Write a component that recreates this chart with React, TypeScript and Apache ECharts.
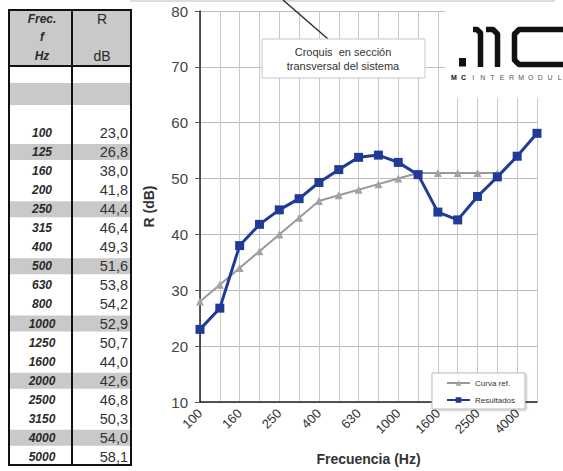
import React, { useEffect, useRef } from 'react';
import * as echarts from 'echarts';

const frequencies = ['100', '125', '160', '200', '250', '315', '400', '500', '630', '800', '1000', '1250', '1600', '2000', '2500', '3150', '4000', '5000'];
const results = [23.0, 26.8, 38.0, 41.8, 44.4, 46.4, 49.3, 51.6, 53.8, 54.2, 52.9, 50.7, 44.0, 42.6, 46.8, 50.3, 54.0, 58.1];
const referenceCurve = [28, 31, 34, 37, 40, 43, 46, 47, 48, 49, 50, 51, 51, 51, 51, 51, null, null];
const shadedRows = ['125', '250', '500', '1000', '2000', '4000'];
const yMin = 10;
const yMax = 80;
const yStep = 10;
const logoLetters = ['M', 'C', 'I', 'N', 'T', 'E', 'R', 'M', 'O', 'D', 'U', 'L'];

const FONT = 'Arial, "Liberation Sans", Helvetica, sans-serif';

function buildGraphics() {
  const g: any[] = [];
  const tx = 9, tw = 122, ty = 10, tb = 465;
  g.push({ type: 'rect', shape: { x: tx, y: ty, width: tw, height: 56 }, style: { fill: '#c9c9c9' }, z: 1 });
  g.push({ type: 'rect', shape: { x: tx, y: 83, width: tw, height: 22 }, style: { fill: '#c9c9c9' }, z: 1 });
  frequencies.forEach((f, i) => {
    const cy = 133 + i * 19.05;
    if (shadedRows.includes(f)) {
      g.push({ type: 'rect', shape: { x: tx, y: cy - 8, width: tw, height: 16 }, style: { fill: '#c9c9c9' }, z: 1 });
    }
    g.push({
      type: 'text', x: 42, y: cy, z: 3,
      style: { text: f, fontFamily: FONT, fontSize: 12, fontWeight: 'bold', fontStyle: 'italic', fill: '#2a2a2a', align: 'center', verticalAlign: 'middle' },
    });
    g.push({
      type: 'text', x: 128, y: cy, z: 3,
      style: { text: results[i].toFixed(1).replace('.', ','), fontFamily: FONT, fontSize: 14.5, fill: '#333', align: 'right', verticalAlign: 'middle' },
    });
  });
  g.push({ type: 'rect', shape: { x: tx, y: ty, width: tw, height: tb - ty }, style: { fill: 'none', stroke: '#111', lineWidth: 2 }, z: 4 });
  g.push({ type: 'line', shape: { x1: 72, y1: ty, x2: 72, y2: tb }, style: { stroke: '#111', lineWidth: 2 }, z: 4 });
  g.push({ type: 'line', shape: { x1: tx, y1: 66, x2: tx + tw, y2: 66 }, style: { stroke: '#111', lineWidth: 2 }, z: 4 });
  const hdr = (text: string, x: number, y: number, italic: boolean, size: number) =>
    g.push({
      type: 'text', x, y, z: 3,
      style: { text, fontFamily: FONT, fontSize: size, fontWeight: italic ? 'bold' : 'normal', fontStyle: italic ? 'italic' : 'normal', fill: '#2a2a2a', align: 'center', verticalAlign: 'middle' },
    });
  hdr('Frec.', 42, 19, true, 12);
  hdr('f', 42, 37, true, 12);
  hdr('Hz', 42, 56, true, 12);
  hdr('R', 102, 19, false, 14);
  hdr('dB', 102, 56, false, 14);

  g.push({ type: 'line', shape: { x1: 130, y1: 1, x2: 555, y2: 1 }, style: { stroke: '#bbb', lineWidth: 1 }, z: 5 });
  g.push({ type: 'line', shape: { x1: 283, y1: 0, x2: 328, y2: 39 }, style: { stroke: '#333', lineWidth: 1.5 }, z: 10 });
  g.push({ type: 'rect', shape: { x: 262, y: 39, width: 163, height: 39 }, style: { fill: '#fff', stroke: '#c8c8c8', lineWidth: 1 }, z: 10 });
  g.push({
    type: 'text', x: 343, y: 59, z: 11,
    style: { text: 'Croquis  en sección\ntransversal del sistema', fontFamily: FONT, fontSize: 11, lineHeight: 14, fill: '#333', align: 'center', verticalAlign: 'middle' },
  });

  g.push({ type: 'rect', shape: { x: 445, y: 8, width: 118, height: 90 }, style: { fill: '#fff' }, z: 20 });
  g.push({ type: 'rect', shape: { x: 459, y: 58, width: 7, height: 8.5 }, style: { fill: '#111' }, z: 21 });
  const strokeStyle = { stroke: '#111', lineWidth: 5.5, fill: 'none', lineJoin: 'round' };
  g.push({ type: 'polyline', shape: { points: [[473, 29.5], [477, 29.5], [480.5, 33], [480.5, 67]] }, style: strokeStyle, z: 21 });
  g.push({ type: 'polyline', shape: { points: [[486, 29.5], [493, 29.5], [497.5, 34], [497.5, 67]] }, style: strokeStyle, z: 21 });
  g.push({ type: 'polyline', shape: { points: [[565, 29.5], [519, 29.5], [514.5, 34], [514.5, 60], [519, 64.5], [565, 64.5]] }, style: strokeStyle, z: 21 });
  logoLetters.forEach((ch, i) => {
    g.push({
      type: 'text', x: 454 + i * 9.6, y: 77, z: 21,
      style: { text: ch, fontFamily: FONT, fontSize: 7, fontWeight: i < 2 ? 'bold' : 'normal', fill: i < 2 ? '#111' : '#555', align: 'center', verticalAlign: 'middle' },
    });
  });
  return g;
}

export default function App() {
  const ref = useRef<HTMLDivElement>(null);
  useEffect(() => {
    if (!ref.current) return;
    const chart = echarts.init(ref.current, null, { renderer: 'svg' });
    chart.setOption({
      animation: false,
      backgroundColor: '#fff',
      textStyle: { fontFamily: FONT },
      grid: { left: 200, right: 26, top: 11, bottom: 62, containLabel: false },
      legend: {
        orient: 'vertical',
        left: 432,
        top: 373,
        width: 104,
        padding: [6, 10, 5, 14],
        itemGap: 9,
        itemWidth: 23,
        itemHeight: 7,
        backgroundColor: '#fff',
        borderColor: '#bbb',
        borderWidth: 1,
        shadowColor: 'rgba(0,0,0,0.25)',
        shadowBlur: 2,
        shadowOffsetX: 1,
        shadowOffsetY: 1,
        textStyle: { fontSize: 8, color: '#333', fontFamily: FONT },
        data: ['Curva ref.', 'Resultados'],
        z: 15,
      },
      xAxis: {
        type: 'category',
        data: frequencies,
        boundaryGap: false,
        name: 'Frecuencia (Hz)',
        nameLocation: 'middle',
        nameGap: 50,
        nameTextStyle: { fontSize: 14, fontWeight: 'bold', color: '#333', fontFamily: FONT },
        axisLine: { lineStyle: { color: '#222', width: 1.5 } },
        axisTick: { show: false },
        axisLabel: { interval: 1, rotate: 45, fontSize: 13, color: '#333', margin: 9, fontFamily: FONT },
        splitLine: { show: true, interval: 0, lineStyle: { color: '#c8c8c8', width: 1 } },
      },
      yAxis: {
        type: 'value',
        min: yMin,
        max: yMax,
        interval: yStep,
        name: 'R (dB)',
        nameLocation: 'middle',
        nameGap: 44,
        nameTextStyle: { fontSize: 14, fontWeight: 'bold', color: '#333', fontFamily: FONT },
        axisLine: { show: true, lineStyle: { color: '#222', width: 1.5 } },
        axisTick: { show: true, length: 5, lineStyle: { color: '#555' } },
        axisLabel: { fontSize: 15, color: '#444', margin: 12, fontFamily: FONT },
        splitLine: { show: true, lineStyle: { color: '#bdbdbd', width: 1 } },
      },
      series: [
        {
          name: 'Curva ref.',
          type: 'line',
          data: referenceCurve,
          symbol: 'triangle',
          symbolSize: 8,
          itemStyle: { color: '#a3a3a3' },
          lineStyle: { color: '#999', width: 2 },
          z: 3,
        },
        {
          name: 'Resultados',
          type: 'line',
          data: results,
          symbol: 'rect',
          symbolSize: 9,
          itemStyle: { color: '#203a98' },
          lineStyle: { color: '#203a98', width: 3 },
          z: 4,
        },
      ],
      graphic: buildGraphics(),
    });
    return () => chart.dispose();
  }, []);
  return <div ref={ref} style={{ position: 'fixed', left: 0, top: 0, width: 563, height: 471 }} />;
}
